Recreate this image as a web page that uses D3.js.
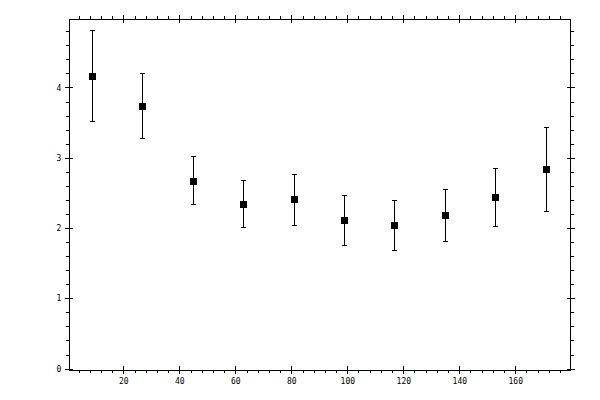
<!DOCTYPE html>
<html lang="en">
<head>
    <meta charset="UTF-8">
    <title>Error bar plot</title>
    <script src="https://d3js.org/d3.v7.min.js"></script>
    <style>
        body { margin: 0; background: #fff; }
        text { font-family: "DejaVu Sans Mono", monospace; font-size: 8px; }
    </style>
</head>
<body>
<script>
    // data
    const xs = [9, 27, 45, 63, 81, 99, 117, 135, 153, 171]
    const ys = [4.16, 3.73, 2.66, 2.34, 2.41, 2.11, 2.04, 2.18, 2.44, 2.83]
    const yHigh = [4.81, 4.20, 3.02, 2.67, 2.76, 2.47, 2.39, 2.55, 2.84, 3.43]
    const yLow = [3.52, 3.27, 2.33, 2.01, 2.04, 1.75, 1.68, 1.81, 2.02, 2.24]
    const xMajor = [20, 40, 60, 80, 100, 120, 140, 160]
    const yMajor = [0, 1, 2, 3, 4]

    const width = 600
    const height = 400
    const pLeft = 69.3, pRight = 570.7, pTop = 19.3, pBottom = 370

    let svg = d3.select("body").append("svg")
        .attr("width", width)
        .attr("height", height)
        .attr("shape-rendering", "crispEdges")

    const x = d3.scaleLinear().domain([0.7, 179.8]).range([pLeft, pRight])
    const y = d3.scaleLinear().domain([-0.02, 4.97]).range([pBottom, pTop])

    const xMinor = d3.range(4, 180, 4).filter(v => v % 20 !== 0)
    const yMinor = d3.range(1, 25).map(v => v / 5).filter(v => Math.abs(v - Math.round(v)) > 1e-6)

    function styleAxis(g) {
        g.select(".domain").remove()
        g.selectAll(".tick line").attr("stroke", "#000")
        g.selectAll("text").attr("fill", "#000")
    }

    // minor ticks, outward on all four sides
    svg.append("g").attr("transform", `translate(0,${pBottom})`)
        .call(d3.axisBottom(x).tickValues(xMinor).tickSize(3).tickFormat(""))
        .call(styleAxis)
    svg.append("g").attr("transform", `translate(0,${pTop})`)
        .call(d3.axisTop(x).tickValues(xMinor).tickSize(3).tickFormat(""))
        .call(styleAxis)
    svg.append("g").attr("transform", `translate(${pLeft},0)`)
        .call(d3.axisLeft(y).tickValues(yMinor).tickSize(3).tickFormat(""))
        .call(styleAxis)
    svg.append("g").attr("transform", `translate(${pRight},0)`)
        .call(d3.axisRight(y).tickValues(yMinor).tickSize(3).tickFormat(""))
        .call(styleAxis)

    // major ticks cross the frame
    svg.append("g").attr("transform", `translate(0,${pBottom})`)
        .call(d3.axisBottom(x).tickValues(xMajor).tickSize(4).tickPadding(4).tickFormat(d3.format("d")))
        .call(styleAxis)
        .call(g => g.selectAll(".tick line").attr("y1", -4))
    svg.append("g").attr("transform", `translate(0,${pTop})`)
        .call(d3.axisTop(x).tickValues(xMajor).tickSize(4).tickFormat(""))
        .call(styleAxis)
        .call(g => g.selectAll(".tick line").attr("y1", 4))
    svg.append("g").attr("transform", `translate(${pLeft},0)`)
        .call(d3.axisLeft(y).tickValues(yMajor).tickSize(4).tickPadding(4).tickFormat(d3.format("d")))
        .call(styleAxis)
        .call(g => g.selectAll(".tick line").attr("x1", 4))
    svg.append("g").attr("transform", `translate(${pRight},0)`)
        .call(d3.axisRight(y).tickValues(yMajor).tickSize(4).tickFormat(""))
        .call(styleAxis)
        .call(g => g.selectAll(".tick line").attr("x1", -4))

    // frame
    svg.append("rect")
        .attr("x", pLeft).attr("y", pTop)
        .attr("width", pRight - pLeft).attr("height", pBottom - pTop)
        .attr("fill", "none").attr("stroke", "#000")

    // error bars
    let bars = svg.append("g").selectAll("g")
        .data(xs)
        .enter()
        .append("g")
        .attr("stroke", "#000")

    bars.append("line")
        .attr("x1", d => x(d)).attr("x2", d => x(d))
        .attr("y1", (d, i) => y(yLow[i])).attr("y2", (d, i) => y(yHigh[i]))
    bars.append("line")
        .attr("x1", d => x(d) - 2.5).attr("x2", d => x(d) + 2.5)
        .attr("y1", (d, i) => y(yHigh[i])).attr("y2", (d, i) => y(yHigh[i]))
    bars.append("line")
        .attr("x1", d => x(d) - 2.5).attr("x2", d => x(d) + 2.5)
        .attr("y1", (d, i) => y(yLow[i])).attr("y2", (d, i) => y(yLow[i]))

    // square markers
    svg.append("g").selectAll("rect")
        .data(xs)
        .enter()
        .append("rect")
        .attr("x", d => x(d) - 3.5)
        .attr("y", (d, i) => y(ys[i]) - 3.5)
        .attr("width", 7)
        .attr("height", 7)
        .attr("fill", "#000")
</script>
</body>
</html>
